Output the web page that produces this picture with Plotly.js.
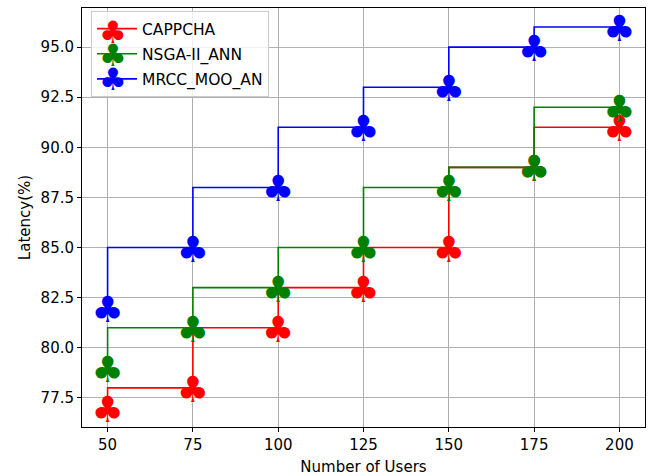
<!DOCTYPE html>
<html>
<head>
<meta charset="utf-8">
<script src="https://cdn.plot.ly/plotly-3.0.1.min.js"></script>
<style>html,body{margin:0;padding:0;background:#fff;}#chart{width:653px;height:476px;}</style>
</head>
<body>
<div id="chart"></div>
<script>
const users = [50, 75, 100, 125, 150, 175, 200];
const cappcha = [77, 78, 81, 83, 85, 89, 91];
const nsga = [79, 81, 83, 85, 88, 89, 92];
const mrcc = [82, 85, 88, 91, 93, 95, 96];
const seriesNames = ['CAPPCHA', 'NSGA-II_ANN', 'MRCC_MOO_AN'];
const seriesColors = ['red', 'green', 'blue'];
const xTicks = [50, 75, 100, 125, 150, 175, 200];
const yTicks = [77.5, 80.0, 82.5, 85.0, 87.5, 90.0, 92.5, 95.0];
const clubSymbol = '\u2663';

const yRange = [76.05, 96.95];
// glyph baseline compensation: the club glyph sits a little high in its text box
const glyphShift = 0.25;

const allSeries = [cappcha, nsga, mrcc];
const traces = [];
allSeries.forEach((vals, i) => {
  traces.push({
    x: users, y: vals, type: 'scatter', mode: 'lines',
    line: {shape: 'vh', color: seriesColors[i], width: 1.6},
    name: seriesNames[i], legendgroup: 'g' + i, showlegend: true, hoverinfo: 'skip'
  });
  traces.push({
    x: users, y: vals, type: 'scatter', mode: 'text', yaxis: 'y2',
    text: users.map(() => clubSymbol), textposition: 'middle center',
    textfont: {family: 'DejaVu Sans', size: 36, color: seriesColors[i]},
    legendgroup: 'g' + i, showlegend: false, hoverinfo: 'skip'
  });
});

const legendY = [0.9439, 0.8878, 0.8317];
const annotations = seriesColors.map((c, i) => ({
  xref: 'paper', yref: 'paper', x: 0.055, y: legendY[i],
  text: clubSymbol, showarrow: false, xanchor: 'center', yanchor: 'middle',
  font: {family: 'DejaVu Sans', size: 31, color: c}
}));

const layout = {
  width: 653, height: 476,
  margin: {l: 82, r: 8, t: 8, b: 49},
  paper_bgcolor: '#fff', plot_bgcolor: '#fff',
  font: {family: 'DejaVu Sans', size: 15, color: '#000'},
  showlegend: true,
  legend: {x: 0.016, y: 0.9928, xanchor: 'left', yanchor: 'top',
    bgcolor: 'rgba(255,255,255,0.8)', bordercolor: '#cccccc', borderwidth: 1,
    font: {family: 'DejaVu Sans', size: 15.5, color: '#000'}, itemwidth: 40,
    traceorder: 'grouped', tracegroupgap: 2},
  xaxis: {range: [42.5, 207.5], tickvals: xTicks, ticktext: xTicks.map(String),
    showgrid: true, gridcolor: '#b0b0b0', gridwidth: 1,
    showline: true, mirror: true, linecolor: '#000', linewidth: 1,
    ticks: 'outside', ticklen: 4, tickcolor: '#000', zeroline: false,
    tickfont: {size: 15},
    title: {text: 'Number of Users', font: {size: 15}, standoff: 8}},
  yaxis: {range: yRange, tickvals: yTicks, ticktext: yTicks.map(v => v.toFixed(1)),
    showgrid: true, gridcolor: '#b0b0b0', gridwidth: 1,
    showline: true, mirror: true, linecolor: '#000', linewidth: 1,
    ticks: 'outside', ticklen: 4, tickcolor: '#000', zeroline: false,
    tickfont: {size: 15},
    title: {text: 'Latency(%)', font: {size: 15}, standoff: 6}},
  yaxis2: {overlaying: 'y', range: [yRange[0] + glyphShift, yRange[1] + glyphShift],
    visible: false, showgrid: false, zeroline: false},
  annotations: annotations
};

Plotly.newPlot('chart', traces, layout, {displayModeBar: false, staticPlot: true});
</script>
</body>
</html>
